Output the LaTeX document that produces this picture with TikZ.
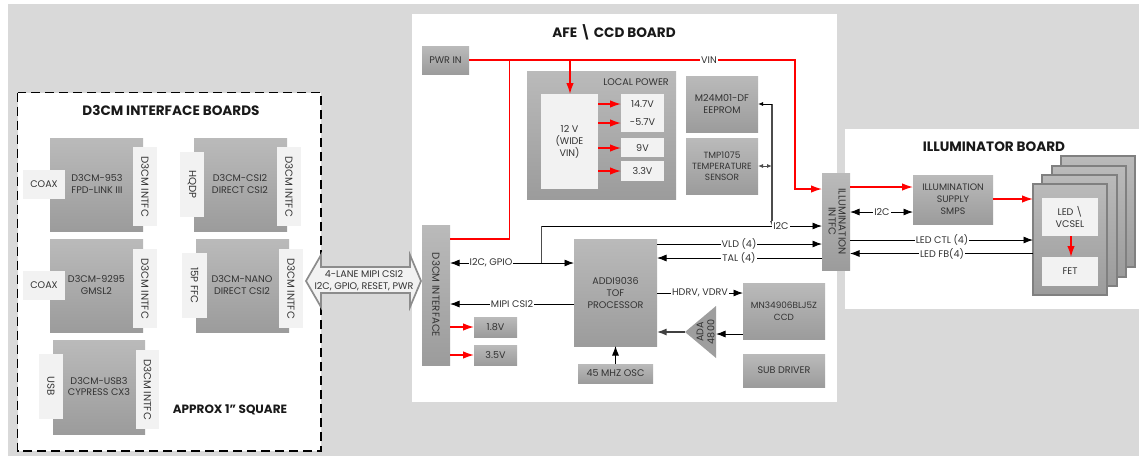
\documentclass[tikz,border=0pt]{standalone}
\usepackage{fontspec}
\setmainfont{Poppins}
\usetikzlibrary{arrows.meta,calc,shapes.geometric}
\definecolor{bggray}{HTML}{D9D9D9}
\definecolor{lite}{HTML}{F2F2F2}
\definecolor{txt}{HTML}{333333}
\newcommand{\rot}[1]{\rotatebox{-90}{\fontsize{10.2}{12}\selectfont #1}}
\tikzset{
  x=1pt,y=-1pt,
  every node/.style={font=\fontsize{9.6}{12}\selectfont,text=txt,inner sep=0pt,outer sep=0pt,align=center},
  dark/.style={top color=black!27,bottom color=black!39},
  light/.style={fill=lite},
  stackbox/.style={dark,draw=black!50,line width=1.2pt},
  title/.style={font=\fontsize{13.6}{16}\bfseries\selectfont,text=black!90},
  lbl/.style={fill=white,inner xsep=1pt,inner ysep=1pt},
  sig/.style={draw=black,line width=0.9pt,-{Latex[length=9.5pt,width=7pt]}},
  sigboth/.style={draw=black,line width=0.9pt,{Latex[length=9.5pt,width=7pt]}-{Latex[length=9.5pt,width=7pt]}},
  plain/.style={draw=black,line width=0.9pt},
  busline/.style={draw=black!70,line width=1.2pt},
  pwrline/.style={draw=red,line width=1.4pt},
  pwr/.style={pwrline,-{Latex[length=11pt,width=7.5pt]}},
  tiny/.style={{Latex[length=5pt,width=4pt]}-{Latex[length=5pt,width=4pt]},draw=black!70,line width=0.9pt},
}
\newcommand{\bx}[7]{%
  \pgfmathsetmacro{\bxw}{#5-#3}\pgfmathsetmacro{\bxh}{#6-#4}%
  \pgfmathsetmacro{\bxx}{(#3+#5)/2}\pgfmathsetmacro{\bxy}{(#4+#6)/2}%
  \node[#2,minimum width=\bxw pt,minimum height=\bxh pt] (#1) at (\bxx,\bxy) {#7};}
\begin{document}
\begin{tikzpicture}
\useasboundingbox (0,0) rectangle (1139,456);
\fill[white] (0,0) rectangle (1139,456);
\fill[bggray] (8,4) rectangle (1139,456);
% panels
\fill[white] (412,14) rectangle (837,402);
\fill[white] (845,129) rectangle (1139,309);
\fill[white] (17.5,92.5) rectangle (321,451);
\draw[black,line width=1.1pt,dash pattern=on 9pt off 5pt] (17.5,92.5) rectangle (321,451);
\node[title] (t1) at (171,110) {D3CM INTERFACE BOARDS};
\node[title] (t2) at (614,32) {AFE \textbackslash{} CCD BOARD};
\node[title] (t3) at (994,147) {ILLUMINATOR BOARD};
\node[font=\fontsize{12}{14}\bfseries\selectfont,text=black!90] (approx) at (230,410) {APPROX 1" SQUARE};
% interface boards
\bx{b1}{dark}{50}{138}{143}{231}{}
\bx{b2}{dark}{194}{138}{287}{231}{}
\bx{b3}{dark}{50}{239}{143}{332}{}
\bx{b4}{dark}{196}{239}{289}{332}{}
\bx{b5}{dark}{53}{340}{145}{434}{}
\node (b1t) at (97,183.5) {D3CM-953\\FPD-LINK III};
\node (b2t) at (240,183.5) {D3CM-CSI2\\DIRECT CSI2};
\node (b3t) at (96.5,284.5) {D3CM-9295\\GMSL2};
\node (b4t) at (242,284.5) {D3CM-NANO\\DIRECT CSI2};
\node (b5t) at (99,386.5) {D3CM-USB3\\[-1pt]CYPRESS CX3};
\bx{i1}{light}{133}{147}{157}{226}{\rot{D3CM INTFC}}
\bx{i2}{light}{277}{147}{301}{226}{\rot{D3CM INTFC}}
\bx{i3}{light}{133}{249}{157}{328}{\rot{D3CM INTFC}}
\bx{i4}{light}{279}{249}{303}{328}{\rot{D3CM INTFC}}
\bx{i5}{light}{136}{350}{159}{429}{\rot{D3CM INTFC}}
\bx{c1}{light}{23}{170}{65}{199}{COAX}
\bx{c2}{light}{180}{152}{204}{217}{\rot{HQDP}}
\bx{c3}{light}{23}{271}{65}{300}{COAX}
\bx{c4}{light}{182}{253}{207}{318}{\rot{15P FFC}}
\bx{c5}{light}{39}{354}{63}{419}{\rot{USB}}
% AFE blocks
\bx{pwrin}{dark}{422}{46}{469}{74}{PWR IN}
\bx{localp}{dark}{527}{71}{676}{199}{}
\node (localt) at (636,82) {LOCAL POWER};
\bx{wide}{light}{541}{94}{598}{189}{12 V\\(WIDE\\VIN)}
\bx{v14}{light}{621}{94}{664}{132}{14.7V\\[6pt]-5.7V}
\bx{v9}{light}{621}{138}{664}{157}{9V}
\bx{v3}{light}{621}{161}{664}{181}{3.3V}
\bx{eeprom}{dark}{686}{76}{758}{132}{M24M01-DF\\EEPROM}
\bx{tmp}{dark,font=\fontsize{9}{11}\selectfont}{686}{138}{758}{194}{TMP1075\\TEMPERATURE\\SENSOR}
\bx{d3if}{dark}{422}{225}{450}{365}{\rot{D3CM INTERFACE}}
\bx{addi}{dark}{574}{239}{657}{346}{ADDI9036\\TOF\\PROCESSOR}
\bx{ccd}{dark,font=\fontsize{8.9}{11.5}\selectfont}{743}{283}{825}{339}{MN34906BLJ5Z\\CCD}
\bx{sub}{dark}{743}{354}{825}{387}{SUB DRIVER}
\bx{osc}{dark}{578}{364}{653}{383}{45 MHZ OSC}
\bx{v18}{dark}{474}{317}{517}{337}{1.8V}
\bx{v35}{dark}{474}{345}{517}{365}{3.5V}
\bx{illum}{dark}{822}{173}{850}{270}{\rot{\begin{tabular}{@{}c@{}}ILLUMINATION\\[-2pt]INTFC\end{tabular}}}
\coordinate (adaT) at (716,306);
\coordinate (adaB) at (716,358);
\coordinate (adaL) at (685,332);
\fill[black!38] (adaT) -- (adaB) -- (adaL) -- cycle;
\node[rotate=90,font=\fontsize{9.6}{11}\selectfont] (ada) at (705.5,332) {ADA\\4800};
% illuminator blocks
\bx{smps}{dark,font=\fontsize{9.4}{12}\selectfont}{913}{175}{993}{224}{ILLUMINATION\\SUPPLY\\SMPS}
\bx{s4}{stackbox}{1061}{156}{1135}{267}{}
\bx{s3}{stackbox}{1052}{166}{1126}{277}{}
\bx{s2}{stackbox}{1042}{175}{1117}{286}{}
\bx{s1}{stackbox}{1033}{184}{1107}{295}{}
\bx{led}{light}{1042}{198}{1098}{236}{LED \textbackslash\\VCSEL}
\bx{fet}{light}{1042}{257}{1098}{286}{FET}
% level helpers
\coordinate (yvin) at (0,60);
\coordinate (yvin2) at (0,189);
\coordinate (xvin) at (795,0);
\coordinate (xb1) at (509.5,0);
\coordinate (xb2) at (570,0);
\coordinate (yd3) at (0,239);
\coordinate (yi2c) at (0,226);
\coordinate (xi2c) at (541.5,0);
\coordinate (ygpio) at (0,263);
\coordinate (yvld) at (0,244);
\coordinate (ytal) at (0,258);
\coordinate (yhdrv) at (0,293);
\coordinate (ymipi) at (0,304);
\coordinate (ysmps) at (0,187);
\coordinate (yi2cb) at (0,212);
\coordinate (yled) at (0,199);
\coordinate (yctl) at (0,240);
\coordinate (yfb) at (0,253.5);
\coordinate (xbus) at (772,0);
\coordinate (yee) at (0,104);
\coordinate (ytmp) at (0,166);
\coordinate (xfet) at (1071,0);
% red connectors
\draw[pwr] (pwrin.east |- yvin) -- (xvin |- yvin) -- (xvin |- yvin2) -- (illum.west |- yvin2);
\draw[pwrline] (xb1 |- yvin) -- (xb1 |- yd3) -- (d3if.east |- yd3);
\draw[pwr] (xb2 |- yvin) -- (wide.north -| xb2);
\foreach \yy/\tgt in {104/v14,123/v14,148/v9,171/v3}{
  \coordinate (tmpy) at (0,\yy);
  \draw[pwr] (wide.east |- tmpy) -- (\tgt.west |- tmpy);
}
\foreach \yy/\tgt in {327/v18,355/v35}{
  \coordinate (tmpy) at (0,\yy);
  \draw[pwr] (d3if.east |- tmpy) -- (\tgt.west |- tmpy);
}
\draw[pwr] (illum.east |- ysmps) -- (smps.west |- ysmps);
\draw[pwr] (smps.east |- yled) -- (s1.west |- yled);
\draw[pwr] (led.south -| xfet) -- (fet.north -| xfet);
% signal connectors
\draw[sig] (xi2c |- ygpio) -- (xi2c |- yi2c) -- (illum.west |- yi2c);
\draw[sigboth] (d3if.east |- ygpio) -- (addi.west |- ygpio);
\draw[busline] (xi2c |- ygpio) -- (xi2c |- yi2c);
\draw[sig] (addi.east |- yvld) -- (illum.west |- yvld);
\draw[sig] (illum.west |- ytal) -- (addi.east |- ytal);
\draw[sig] (addi.east |- yhdrv) -- (ccd.west |- yhdrv);
\draw[sig] (addi.west |- ymipi) -- (d3if.east |- ymipi);
\draw[sig] (osc.north) -- (addi.south -| osc.north);
\coordinate (yada) at (0,334);
\draw[sig] (ccd.west |- yada) -- (adaT |- yada);
\draw[sig,line width=1.3pt,draw=black!75] (adaL) -- (addi.east |- adaL);
\draw[sigboth] (illum.east |- yi2cb) -- (smps.west |- yi2cb);
\draw[sig] (illum.east |- yctl) -- (s1.west |- yctl);
\draw[sig] (s1.west |- yfb) -- (illum.east |- yfb);
% i2c bus to memories
\draw[busline,-{Latex[length=5pt,width=4pt]}] (xbus |- yee) -- (xbus |- yi2c);
\draw[plain,-{Latex[length=5pt,width=4pt]}] (xbus |- yee) -- (eeprom.east |- yee);
\draw[tiny] (tmp.east |- ytmp) -- (xbus |- ytmp);
% labels
\node[lbl] (lvin) at (709,60) {VIN};
\node[lbl] (li2c) at (781,226) {I2C};
\node[lbl] (lgpio) at (491,263) {I2C, GPIO};
\node[lbl] (lvld) at (739,244) {VLD (4)};
\node[lbl] (ltal) at (739,258) {TAL (4)};
\node[lbl] (lhd) at (700,293) {HDRV, VDRV};
\node[lbl] (lmipi) at (512,304) {MIPI CSI2};
\node[lbl] (li2cb) at (882,212) {I2C};
\node[lbl] (lctl) at (942,240) {LED CTL (4)};
\node[lbl] (lfb) at (942,253.5) {LED FB(4)};
% wide double arrow
\draw[draw=black!45,line width=1.7pt,fill=lite,line join=miter]
  (306,281) -- (321,255) -- (321,267) -- (410,267) -- (410,255) -- (421,281)
  -- (410,307) -- (410,293) -- (321,293) -- (321,307) -- cycle;
\node (link) at (364,280.5) {4-LANE MIPI CSI2\\I2C, GPIO, RESET, PWR};
\end{tikzpicture}
\end{document}
